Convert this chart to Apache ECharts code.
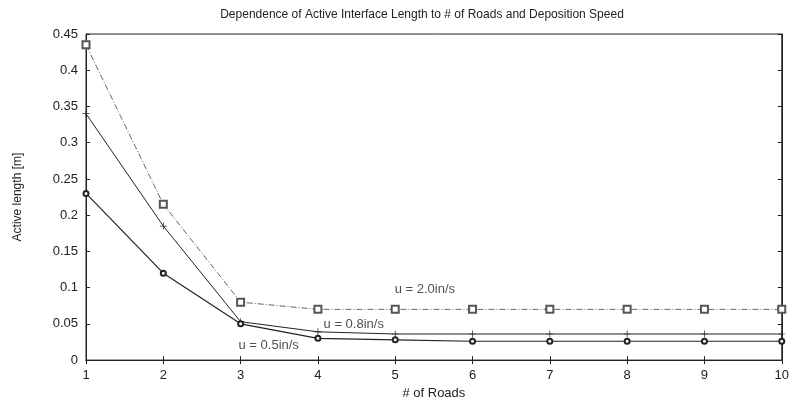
<!DOCTYPE html>
<html><head><meta charset="utf-8">
<script src="https://cdn.jsdelivr.net/npm/echarts@6/dist/echarts.min.js"></script>
<style>html,body{margin:0;padding:0;background:#fff}#c{width:792px;height:405px}</style>
</head><body><div id="c"></div>
<script>
const roads = [1,2,3,4,5,6,7,8,9,10];
const u20 = [0.435,0.215,0.080,0.070,0.070,0.070,0.070,0.070,0.070,0.070];
const u08 = [0.340,0.185,0.053,0.039,0.036,0.036,0.036,0.036,0.036,0.036];
const u05 = [0.230,0.120,0.050,0.030,0.028,0.026,0.026,0.026,0.026,0.026];
const yTicks = [0,0.05,0.1,0.15,0.2,0.25,0.3,0.35,0.4,0.45];
const labelTexts = ['u = 2.0in/s','u = 0.8in/s','u = 0.5in/s'];
const labelX = [4.98, 4.06, 2.96];
const labelY = [0.097, 0.049, 0.0205];
const font = 'Liberation Sans, Arial, sans-serif';
const pair = a => roads.map((r,i)=>[r,a[i]]);
const plus = 'path://M4.5,0L5.5,0L5.5,4.5L10,4.5L10,5.5L5.5,5.5L5.5,10L4.5,10L4.5,5.5L0,5.5L0,4.5L4.5,4.5Z';
const chart = echarts.init(document.getElementById('c'));
chart.setOption({
  animation:false,
  backgroundColor:'#fff',
  title:{text:'Dependence of Active Interface Length to # of Roads and Deposition Speed',left:417,textAlign:'center',top:4,
    textStyle:{fontFamily:font,fontSize:12,fontWeight:'normal',color:'#222'}},
  grid:{left:86,right:8,top:34,bottom:43,show:true,borderColor:'#222',borderWidth:1},
  xAxis:[{type:'value',min:1,max:10,interval:1,name:'# of Roads',nameLocation:'middle',nameGap:23,
    nameTextStyle:{fontFamily:font,fontSize:13,color:'#222'},
    axisLine:{lineStyle:{color:'#222'}},axisTick:{inside:true,length:4,lineStyle:{color:'#222'}},
    axisLabel:{fontFamily:font,fontSize:13,color:'#222',margin:9},splitLine:{show:false}},
   {type:'value',position:'top',min:1,max:10,interval:1,axisLine:{show:true,lineStyle:{color:'#222'}},
    axisTick:{inside:true,length:4,lineStyle:{color:'#222'}},axisLabel:{show:false},splitLine:{show:false}}],
  yAxis:[{type:'value',min:0,max:0.45,interval:0.05,name:'Active length [m]',nameLocation:'middle',nameGap:62,
    nameTextStyle:{fontFamily:font,fontSize:12,color:'#222'},
    axisLine:{show:true,lineStyle:{color:'#222'}},axisTick:{inside:true,length:4,lineStyle:{color:'#222'}},
    axisLabel:{fontFamily:font,fontSize:13,color:'#222',margin:8,formatter:v=>{const t=yTicks.find(k=>Math.abs(k-v)<1e-9);return String(+(t??v).toFixed(2));}},
    splitLine:{show:false}},
   {type:'value',position:'right',min:0,max:0.45,interval:0.05,axisLine:{show:true,lineStyle:{color:'#222'}},
    axisTick:{inside:true,length:4,lineStyle:{color:'#222'}},axisLabel:{show:false},splitLine:{show:false}}],
  series:[
    {name:'u = 2.0in/s',type:'line',data:pair(u20),symbol:'emptyRect',symbolSize:7,
      lineStyle:{color:'#666',width:1,type:[6,2,1,2]},itemStyle:{color:'#555',borderWidth:0.8}},
    {name:'u = 0.8in/s',type:'line',data:pair(u08),symbol:plus,symbolSize:7,
      lineStyle:{color:'#222',width:1},itemStyle:{color:'#222'}},
    {name:'u = 0.5in/s',type:'line',data:pair(u05),symbol:'emptyCircle',symbolSize:5,
      lineStyle:{color:'#222',width:1.2},itemStyle:{color:'#222',borderWidth:0.8}},
    {name:'labels',type:'scatter',silent:true,symbol:'circle',symbolSize:2,z:10,
      itemStyle:{color:'rgba(255,255,255,0)'},
      data:labelTexts.map((t,i)=>({value:[labelX[i],labelY[i]],name:t})),
      label:{show:true,position:'right',distance:0,formatter:p=>p.name,fontFamily:font,fontSize:13,color:'#222'}}
  ]
});
</script></body></html>
